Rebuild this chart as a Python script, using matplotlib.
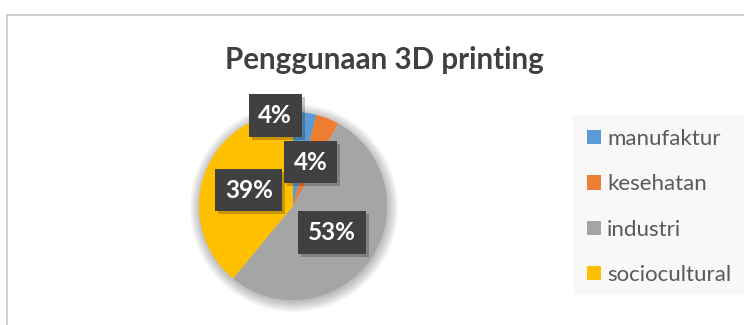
import matplotlib
matplotlib.use("Agg")
import matplotlib.pyplot as plt
from matplotlib.patches import Rectangle, Circle

title = "Penggunaan 3D printing"
categories = ["manufaktur", "kesehatan", "industri", "sociocultural"]
values = [4, 4, 53, 39]
colors = ["#5B9BD5", "#ED7D31", "#A5A5A5", "#FFC000"]

FONT = "Lato"
W, H = 744, 325
fig = plt.figure(figsize=(W / 100, H / 100), dpi=100)
fig.patch.set_facecolor("white")

# chart border (extends beyond the image on right/bottom)
fig.patches.append(Rectangle((7 / W, -0.1), 2.0, (H - 15) / H + 0.1,
                             transform=fig.transFigure, fill=False,
                             edgecolor="#C8C8C8", lw=1.2))

# title
fig.text(384 / W, 1 - 69 / H, title, ha="center", va="baseline",
         fontsize=21.3, fontweight="bold", color="#404040", family=FONT)

# pie axes
cx, cy, r = 293, 206, 98
lim = 1.2
half = r * lim
ax = fig.add_axes([(cx - half) / W, (H - cy - half) / H, 2 * half / W, 2 * half / H])
ax.set_xlim(-lim, lim)
ax.set_ylim(-lim, lim)
ax.set_aspect("equal")
ax.axis("off")

# soft shadow around pie
for i in range(10):
    ax.add_patch(Circle((0.01, -0.02), 1.0 + 0.012 * i, color="#000000",
                        alpha=0.028, lw=0, zorder=0))

wedges, texts, autotexts = ax.pie(
    values, colors=colors, startangle=90, counterclock=False,
    autopct="%1.0f%%", pctdistance=0.5, radius=1.0,
    wedgeprops=dict(linewidth=0, zorder=2),
    textprops=dict(color="white", fontsize=17.5, fontweight="bold", family=FONT))

# Excel "best fit" moved the first small label
autotexts[0].set_position((-0.19, 0.96))

for t in autotexts:
    t.set_zorder(5)
    t.set_bbox(dict(boxstyle="square,pad=0.4", facecolor="#404040", edgecolor="none"))

# box shadows behind each label box
fig.canvas.draw()
for t in autotexts:
    bb = t.get_bbox_patch().get_window_extent()
    ax.add_patch(Rectangle(((bb.x0 + 3) / W, (bb.y0 - 3) / H), bb.width / W,
                           bb.height / H, transform=fig.transFigure,
                           facecolor="#000000", alpha=0.22, edgecolor="none",
                           zorder=4))

# legend background
fig.patches.append(Rectangle((573 / W, 1 - 295 / H), 1.0, (295 - 115) / H,
                             transform=fig.transFigure, facecolor="#F8F8F8",
                             edgecolor="none", zorder=0))
leg = fig.legend(wedges, categories, loc="upper left",
                 bbox_to_anchor=(587 / W, 1 - 129 / H), frameon=False,
                 prop=dict(family=FONT, size=16), labelcolor="#595959",
                 handlelength=0.63, handleheight=0.63, handletextpad=0.27,
                 labelspacing=1.14, borderaxespad=0, borderpad=0)

fig.savefig("out.png", dpi=100)
